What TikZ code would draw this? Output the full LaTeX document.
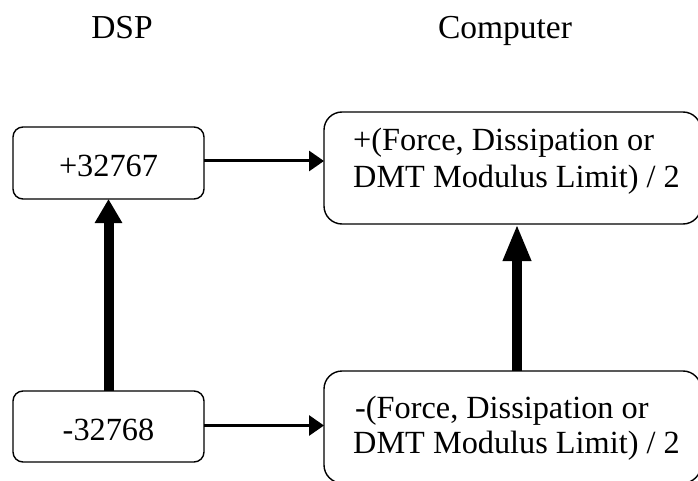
\documentclass[tikz,border=0pt]{standalone}
\usepackage{fontspec}
\setmainfont{Liberation Serif}
\usetikzlibrary{arrows.meta}
\begin{document}
\begin{tikzpicture}[x=1pt,y=-1pt,
  box/.style={draw, line width=1.4pt, inner sep=0pt, outer sep=0pt},
  lbl/.style={font=\fontsize{32.3}{36}\selectfont, inner sep=0pt, anchor=base},
  hdr/.style={lbl, font=\fontsize{33.5}{38}\selectfont},
  lline/.style={lbl, anchor=base west},
  thinarrow/.style={line width=3pt, -{Triangle[length=15pt,width=20pt]}},
  thickarrow/.style={line width=10pt, -{Triangle[length=#1,width=26pt]}}]
\useasboundingbox (0,0) rectangle (698,481);
\clip (0,0) rectangle (698,481);
% headers
\node[hdr] (dsp) at (122,39) {DSP};
\node[hdr] (comp) at (505,39) {Computer};
% boxes
\node[box, rounded corners=10pt, minimum width=191pt, minimum height=72pt] (dspHigh) at (108.5,163) {};
\node[box, rounded corners=10pt, minimum width=191pt, minimum height=71pt] (dspLow) at (108.5,426.5) {};
\node[box, rounded corners=18pt, minimum width=377pt, minimum height=112pt] (compHigh) at (512.5,168) {};
\node[box, rounded corners=18pt, minimum width=377pt, minimum height=112pt] (compLow) at (512.5,427) {};
% texts
\node[lbl] (tHigh) at (108.5,177) {+32767};
\node[lbl] (tLow) at (108.5,440) {-32768};
\node[lline] (cH1) at (353,151) {+(Force, Dissipation or};
\node[lline] (cH2) at (353,187) {DMT Modulus Limit) / 2};
\node[lline] (cL1) at (355,418) {-(Force, Dissipation or};
\node[lline] (cL2) at (353,453) {DMT Modulus Limit) / 2};
% connectors
\draw[thinarrow] ([yshift=2pt]dspHigh.east) -- ([yshift=2pt]dspHigh.east -| compHigh.west);
\draw[thinarrow] ([yshift=1pt]dspLow.east) -- ([yshift=1pt]dspLow.east -| compLow.west);
\draw[thickarrow=24pt] (dspLow.north) -- (dspHigh.south);
\draw[thickarrow=37pt] ([xshift=4.5pt]compLow.north) -- ([xshift=4.5pt]compHigh.south);
\end{tikzpicture}
\end{document}
